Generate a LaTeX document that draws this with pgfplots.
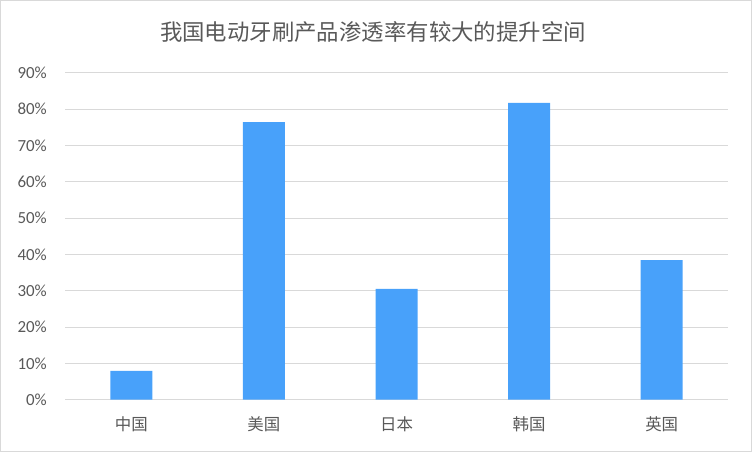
\documentclass[border=0pt]{standalone}
\usepackage{fontspec}
\setmainfont{Carlito}
\newfontfamily\cjk{Noto Sans CJK SC}
\usepackage{pgfplots}
\pgfplotsset{compat=1.18}
\definecolor{barblue}{HTML}{48A1FA}
\definecolor{txtgray}{HTML}{595959}
\definecolor{gridgray}{HTML}{D9D9D9}

\begin{document}
\begin{tikzpicture}
\path[use as bounding box] (0,0) rectangle (752bp,452bp);
\draw[gridgray, line width=1bp] (0.5bp,0.5bp) rectangle (751.5bp,451.5bp);
\node[txtgray, font=\cjk\fontsize{22.5}{25}\selectfont] at (373bp,420bp) {我国电动牙刷产品渗透率有较大的提升空间};
\begin{axis}[
  at={(65bp,52.3bp)}, anchor=south west,
  scale only axis, width=663bp, height=327bp,
  ybar, bar width=42bp,
  xmin=-0.5, xmax=4.5, ymin=0, ymax=90,
  xtick=data,
  xticklabels={中国,美国,日本,韩国,英国},
  ytick={0,10,...,90},
  yticklabel={\pgfmathprintnumber{\tick}\%},
  /pgf/number format/assume math mode=true,
  major tick length=0pt,
  axis line style={draw=none},
  ymajorgrids, grid style={gridgray, line width=1bp},
  yticklabel style={txtgray, font=\fontsize{17}{19}\selectfont, anchor=east, inner sep=0pt, xshift=-18bp},
  xticklabel style={txtgray, font=\cjk\fontsize{16.5}{19}\selectfont, anchor=center, inner sep=0pt, yshift=-25bp},
]
\addplot[fill=barblue, draw=none] coordinates {
  (0,7.9) (1,76.4) (2,30.5) (3,81.7) (4,38.4)};
\end{axis}
\end{tikzpicture}
\end{document}
